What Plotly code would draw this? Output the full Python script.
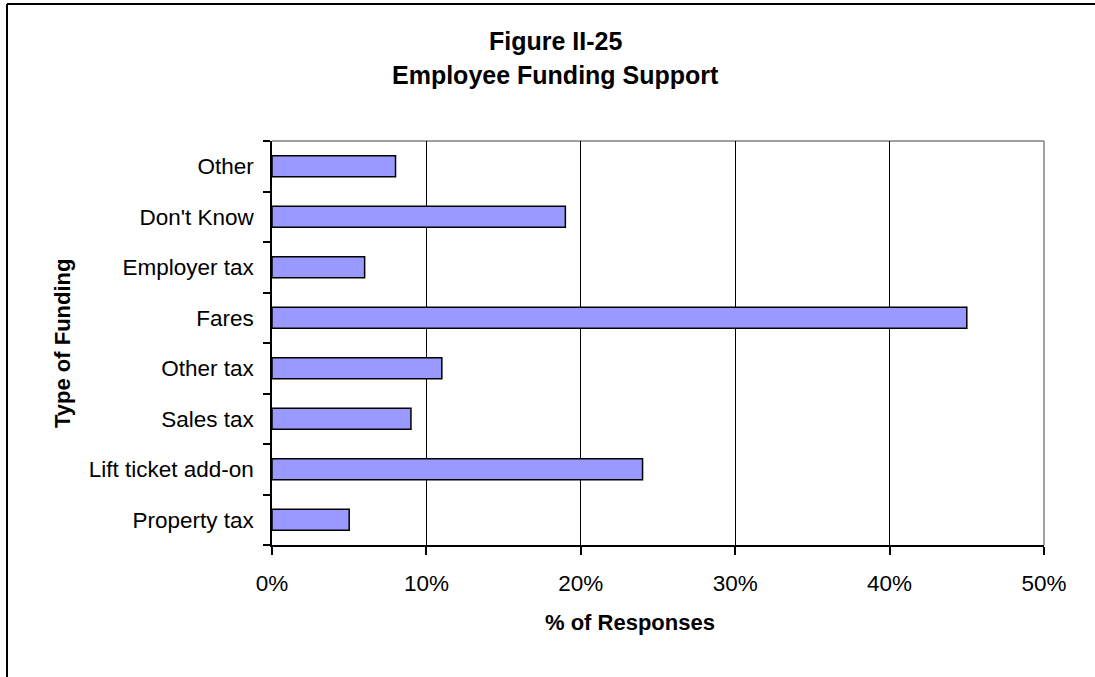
import plotly.graph_objects as go

# Funding types, bottom to top as they appear on the axis
categories = ["Property tax", "Lift ticket add-on", "Sales tax", "Other tax",
              "Fares", "Employer tax", "Don't Know", "Other"]
responses_pct = [5, 24, 9, 11, 45, 6, 19, 8]
x_ticks = [0, 10, 20, 30, 40, 50]

W, H = 1095, 677
L, R, T, B = 272, 1044, 141, 545  # plot area in pixels

def px(x):
    return (x - L) / (R - L)

def py(y):
    return (B - y) / (B - T)

FONT = "Arial, Liberation Sans, sans-serif"

fig = go.Figure(go.Bar(
    y=categories,
    x=responses_pct,
    orientation="h",
    marker=dict(color="#9999FF", line=dict(color="#000000", width=1.5)),
))

fig.update_layout(
    width=W, height=H,
    margin=dict(l=L, r=W - R, t=T, b=H - B, pad=0),
    paper_bgcolor="white", plot_bgcolor="white",
    showlegend=False,
    bargap=0.58,
    font=dict(family=FONT, size=22, color="black"),
)

fig.update_xaxes(
    range=[0, 50], tickvals=x_ticks, ticktext=[f"{v}%" for v in x_ticks],
    showgrid=True, gridcolor="black", gridwidth=1.2,
    showline=True, linecolor="black", linewidth=2,
    ticks="outside", ticklen=8, tickwidth=1.5, tickcolor="black",
    ticklabelstandoff=9, zeroline=False,
    tickfont=dict(family=FONT, size=22.5, color="black"),
)
fig.update_yaxes(
    type="category", categoryorder="array", categoryarray=categories,
    tickson="boundaries", showgrid=False,
    showline=True, linecolor="black", linewidth=1.5,
    ticks="outside", ticklen=7, tickwidth=1.5, tickcolor="black",
    ticklabelstandoff=12,
    tickfont=dict(family=FONT, size=22.5, color="black"),
)

shapes = [
    # grey top and right edges of the plot area
    dict(type="line", xref="paper", yref="paper", x0=0, x1=1, y0=1, y1=1,
         line=dict(color="#808080", width=1.5), layer="below"),
    dict(type="line", xref="paper", yref="paper", x0=1, x1=1, y0=0, y1=1,
         line=dict(color="#808080", width=1.5), layer="below"),
    # outer chart frame (top and left edges)
    dict(type="line", xref="paper", yref="paper", x0=px(7), x1=px(W + 10),
         y0=py(4), y1=py(4), line=dict(color="black", width=2)),
    dict(type="line", xref="paper", yref="paper", x0=px(7), x1=px(7),
         y0=py(4), y1=py(H + 10), line=dict(color="black", width=2)),
]
fig.update_layout(shapes=shapes)

annotations = [
    dict(text="<b>Figure II-25</b>", x=px(555), y=py(41), xref="paper", yref="paper",
         showarrow=False, xanchor="center", yanchor="middle",
         font=dict(family=FONT, size=25, color="black")),
    dict(text="<b>Employee Funding Support</b>", x=px(555), y=py(75), xref="paper",
         yref="paper", showarrow=False, xanchor="center", yanchor="middle",
         font=dict(family=FONT, size=25, color="black")),
    dict(text="<b>% of Responses</b>", x=px(630), y=py(622), xref="paper", yref="paper",
         showarrow=False, xanchor="center", yanchor="middle",
         font=dict(family=FONT, size=22, color="black")),
    dict(text="<b>Type of Funding</b>", x=px(62), y=py(343), xref="paper", yref="paper",
         showarrow=False, xanchor="center", yanchor="middle", textangle=-90,
         font=dict(family=FONT, size=22, color="black")),
]
fig.update_layout(annotations=annotations)

fig.write_html("out.html")
